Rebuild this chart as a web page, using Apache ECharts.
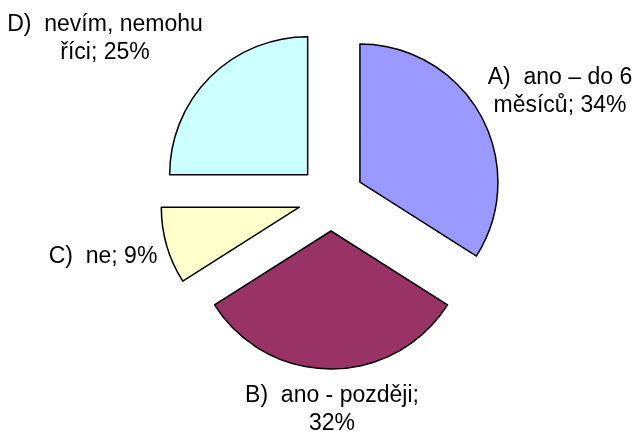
<!DOCTYPE html>
<html>
<head>
<meta charset="utf-8">
<script src="https://cdn.jsdelivr.net/npm/echarts@6/dist/echarts.min.js"></script>
<style>
  html, body { margin: 0; padding: 0; background: #fff; }
  #chart { width: 634px; height: 432px; }
</style>
</head>
<body>
<div id="chart"></div>
<script>
// Survey answers and their shares (percent)
const categories = ['A)  ano – do 6 měsíců', 'B)  ano - později', 'C)  ne', 'D)  nevím, nemohu říci'];
const values = [34, 32, 9, 25];
const colors = ['#9999FF', '#993366', '#FFFFCC', '#CCFFFF'];

// Word after which each label wraps onto a second line
const wrapAfter = ['6', 'později;', null, 'nemohu'];
// Centre of each label block
const labelSpots = [[560, 92], [332, 410], [103, 257], [105, 39]];

function labelText(i) {
  let t = categories[i] + '; ' + values[i] + '%';
  const w = wrapAfter[i];
  if (w) t = t.replace(w + ' ', w + '\n');
  return t;
}

const chart = echarts.init(document.getElementById('chart'), null, { renderer: 'canvas' });

chart.setOption({
  animation: false,
  backgroundColor: '#ffffff',
  graphic: categories.map((c, i) => ({
    type: 'text',
    x: labelSpots[i][0],
    y: labelSpots[i][1],
    silent: true,
    style: {
      text: labelText(i),
      fill: '#000',
      font: '23px Arial, "Liberation Sans", sans-serif',
      lineHeight: 28,
      align: 'center',
      verticalAlign: 'middle'
    }
  })),
  series: [{
    type: 'pie',
    center: [331, 198],
    radius: 138,
    startAngle: 90,
    clockwise: true,
    selectedMode: 'multiple',
    selectedOffset: 33,
    silent: true,
    emphasis: { disabled: true },
    itemStyle: { borderColor: '#000', borderWidth: 1.5 },
    label: { show: false },
    labelLine: { show: false },
    data: categories.map((c, i) => ({
      name: c,
      value: values[i],
      selected: true,
      itemStyle: { color: colors[i] }
    }))
  }]
});
</script>
</body>
</html>
